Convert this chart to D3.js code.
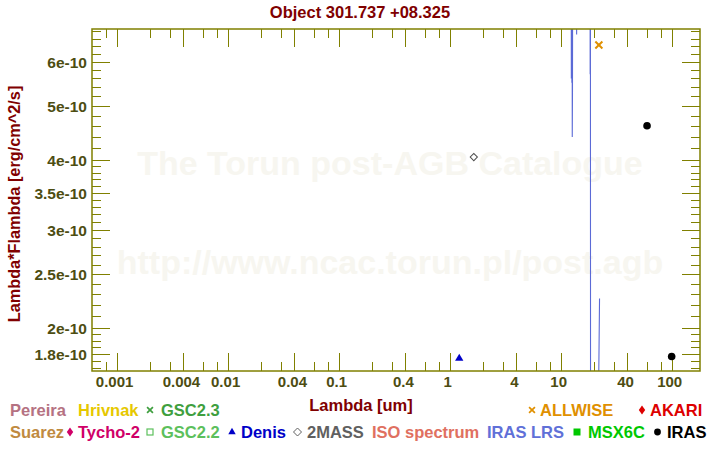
<!DOCTYPE html>
<html><head><meta charset="utf-8">
<script src="https://cdn.jsdelivr.net/npm/d3@7"></script>
<style>
body{margin:0;background:#fff}
svg{display:block}
text{font-family:"Liberation Sans",Arial,Helvetica,sans-serif;font-weight:bold}
</style>
</head><body>
<svg id="chart" width="720" height="450"></svg>
<script>
// ---------- data ----------
const chartTitle = "Object 301.737 +08.325";
const xAxisTitle = "Lambda [um]";
const yAxisTitle = "Lambda*Flambda [erg/cm^2/s]";
const watermarkLines = ["The Torun post-AGB Catalogue", "http://www.ncac.torun.pl/post.agb"];

const xTickValues = [0.001, 0.004, 0.01, 0.04, 0.1, 0.4, 1, 4, 10, 40, 100];
const xTickLabels = ["0.001", "0.004", "0.01", "0.04", "0.1", "0.4", "1", "4", "10", "40", "100"];
const yTickValues = [1.8e-10, 2e-10, 2.5e-10, 3e-10, 3.5e-10, 4e-10, 5e-10, 6e-10];
const yTickLabels = ["1.8e-10", "2e-10", "2.5e-10", "3e-10", "3.5e-10", "4e-10", "5e-10", "6e-10"];

// photometry
const allwiseLambda = [22.09];
const allwiseFlux = [6.43e-10];
const irasLambda = [60, 100];
const irasFlux = [4.61e-10, 1.78e-10];
const denisLambda = [1.22];
const denisFlux = [1.766e-10];
const twomassLambda = [1.65];
const twomassFlux = [4.05e-10];

// IRAS LRS spectrum (mostly above the plotted range)
const lrsLambda = [7.7, 8.0, 8.3, 8.6, 8.9, 9.2, 9.5, 9.8, 10.1, 10.4, 10.7, 11.0, 11.3, 11.6, 11.9, 12.2,
  12.42, 12.48, 12.55, 12.62, 12.68, 12.72, 12.78, 12.9, 13.2, 13.5, 13.85, 13.93, 14.0, 14.4, 14.8, 15.2, 15.6, 16.0,
  16.4, 16.8, 17.2, 17.6, 17.9, 18.2, 18.38, 18.44, 18.5, 18.55, 18.62, 18.8, 19.2, 19.6, 20.0, 20.4, 20.8,
  21.2, 21.6, 21.9, 22.4];
const lrsFlux = [1.2e-9, 1.4e-9, 1.7e-9, 2.0e-9, 2.2e-9, 2.4e-9, 2.5e-9, 2.6e-9, 2.7e-9, 2.6e-9, 2.5e-9, 2.4e-9, 2.3e-9, 2.2e-9, 2.1e-9, 2.0e-9,
  1.9e-9, 5.6e-10, 1.7e-9, 5.5e-10, 1.6e-9, 4.4e-10, 5.28e-10, 2.0e-9, 1.9e-9, 1.9e-9, 2.0e-9, 6.71e-10, 2.0e-9, 1.9e-9, 1.9e-9, 1.8e-9, 1.8e-9, 1.9e-9,
  1.9e-9, 2.0e-9, 2.0e-9, 2.1e-9, 2.1e-9, 2.1e-9, 2.1e-9, 5.7e-10, 2.0e-9, 5.6e-10, 4e-11, 5e-11, 6e-11, 7e-11, 8e-11, 9e-11, 1.0e-10,
  1.1e-10, 1.2e-10, 1.45e-10, 2.26e-10];

// legend
const legendNames = ["Pereira", "Hrivnak", "GSC2.3", "ALLWISE", "AKARI",
  "Suarez", "Tycho-2", "GSC2.2", "Denis", "2MASS", "ISO spectrum", "IRAS LRS", "MSX6C", "IRAS"];
const legendColors = ["#b57282", "#e6c800", "#3f9f3f", "#e09000", "#dd0000",
  "#c08a40", "#d00068", "#5cc05c", "#0000c8", "#606060", "#e07060", "#6070d8", "#00c800", "#000000"];
const legendMarkers = [null, null, "x", "x", "diamond",
  null, "diamond", "square-open", "triangle", "diamond-open", null, null, "square", "circle"];

// ---------- layout ----------
const plot = {left: 92, right: 700, top: 29, bottom: 371};
const legendLayout = [ // [row, markerX, textX]
  [0, null, 10], [0, null, 78], [0, 150, 161], [0, 532, 540], [0, 642, 650],
  [1, null, 10], [1, 70, 78], [1, 150, 161], [1, 232, 241], [1, 297.5, 307], [1, null, 372], [1, null, 487], [1, 577, 588], [1, 657.5, 667]
];
const legendRowY = [416, 438];
const axisColor = "#808000";
const tickTextColor = "#4d4d12";
const titleColor = "#800000";

const svg = d3.select("#chart");

const x = d3.scaleLog().domain([6e-4, 180]).range([plot.left, plot.right]);
const y = d3.scaleLog().domain([1.677e-10, 6.867e-10]).range([plot.bottom, plot.top]);

// watermark
svg.append("g").selectAll("text").data(watermarkLines).join("text")
  .attr("x", 390).attr("y", (d, i) => [175, 274][i])
  .attr("text-anchor", "middle").attr("font-size", 34)
  .attr("fill", "#f7f6f0").text(d => d);

// minor ticks
const xMinor = [];
[1e-4, 1e-3, 1e-2, 1e-1, 1, 10, 100].forEach(dec => [2, 3, 6, 8].forEach(m => {
  const v = dec * m;
  if (v > 6.05e-4 && v < 179) xMinor.push(v);
}));
const yMinor = [];
[[1.7e-10, 2e-10, 0.05e-10], [2e-10, 4e-10, 0.1e-10], [4e-10, 6.87e-10, 0.2e-10]].forEach(([a, b, s]) => {
  for (let k = 0; a + k * s < b - 1e-14; k++) {
    const v = a + k * s;
    if (v > 1.678e-10 && !yTickValues.some(t => Math.abs(t - v) < 1e-13)) yMinor.push(v);
  }
});

const tickG = svg.append("g").attr("stroke", axisColor).attr("stroke-width", 1);
function vTicks(vals, len) {
  vals.forEach(v => {
    const px = Math.round(x(v)) + 0.5;
    tickG.append("line").attr("x1", px).attr("x2", px).attr("y1", plot.bottom).attr("y2", plot.bottom - len);
    tickG.append("line").attr("x1", px).attr("x2", px).attr("y1", plot.top).attr("y2", plot.top + len);
  });
}
function hTicks(vals, len) {
  vals.forEach(v => {
    const py = Math.round(y(v)) + 0.5;
    tickG.append("line").attr("y1", py).attr("y2", py).attr("x1", plot.left).attr("x2", plot.left + len);
    tickG.append("line").attr("y1", py).attr("y2", py).attr("x1", plot.right).attr("x2", plot.right - len);
  });
}
vTicks(xMinor, 9); vTicks(xTickValues, 18);
hTicks(yMinor, 9); hTicks(yTickValues, 18);

// clip
svg.append("clipPath").attr("id", "clip").append("rect")
  .attr("x", plot.left).attr("y", plot.top)
  .attr("width", plot.right - plot.left).attr("height", plot.bottom - plot.top);

const dataG = svg.append("g").attr("clip-path", "url(#clip)");

// LRS spectrum
const lrs = lrsLambda.map((l, i) => [l, lrsFlux[i]]);
dataG.append("path").datum(lrs)
  .attr("fill", "none").attr("stroke", "#5b6ad6").attr("stroke-width", 1.1)
  .attr("d", d3.line().x(d => x(d[0])).y(d => y(d[1])));

// frame
svg.append("rect").attr("x", plot.left).attr("y", plot.top)
  .attr("width", plot.right - plot.left).attr("height", plot.bottom - plot.top)
  .attr("fill", "none").attr("stroke", axisColor).attr("stroke-width", 1.5);

// photometry markers
const markG = svg.append("g");
markG.selectAll(".wise").data(allwiseLambda).join("path")
  .attr("transform", (d, i) => `translate(${x(d)},${y(allwiseFlux[i])})`)
  .attr("d", d3.symbol(d3.symbolX, 34)).attr("fill", "none")
  .attr("stroke", "#e09000").attr("stroke-width", 2);
markG.selectAll(".iras").data(irasLambda).join("circle")
  .attr("cx", d => x(d)).attr("cy", (d, i) => y(irasFlux[i])).attr("r", 3.8).attr("fill", "#000");
markG.selectAll(".denis").data(denisLambda).join("path")
  .attr("transform", (d, i) => `translate(${x(d)},${y(denisFlux[i])})`)
  .attr("d", d3.symbol(d3.symbolTriangle, 30)).attr("fill", "#0000c8");
markG.selectAll(".tm").data(twomassLambda).join("path")
  .attr("transform", (d, i) => `translate(${x(d)},${y(twomassFlux[i])}) rotate(45)`)
  .attr("d", d3.symbol(d3.symbolSquare, 26)).attr("fill", "#fff")
  .attr("stroke", "#505050").attr("stroke-width", 1);

// tick labels
svg.append("g").selectAll("text").data(xTickValues).join("text")
  .attr("x", d => x(d) - 2).attr("y", 387).attr("text-anchor", "middle")
  .attr("font-size", 15).attr("fill", tickTextColor).text((d, i) => xTickLabels[i]);
svg.append("g").selectAll("text").data(yTickValues).join("text")
  .attr("x", 87).attr("y", d => y(d) + 6).attr("text-anchor", "end")
  .attr("font-size", 15.5).attr("fill", tickTextColor).text((d, i) => yTickLabels[i]);

// titles
svg.append("text").attr("x", 360).attr("y", 18).attr("text-anchor", "middle")
  .attr("font-size", 16.5).attr("fill", titleColor).text(chartTitle);
svg.append("text").attr("x", 361).attr("y", 411).attr("text-anchor", "middle")
  .attr("font-size", 16.5).attr("fill", titleColor).text(xAxisTitle);
svg.append("text").attr("transform", "translate(20,204) rotate(-90)").attr("text-anchor", "middle")
  .attr("font-size", 16.3).attr("fill", titleColor).text(yAxisTitle);

// legend
const legG = svg.append("g");
legendNames.forEach((name, i) => {
  const [row, mx, tx] = legendLayout[i];
  const by = legendRowY[row];
  const col = legendColors[i];
  const m = legendMarkers[i];
  const cy = by - 6;
  if (m === "x") {
    legG.append("path").attr("transform", `translate(${mx},${cy})`)
      .attr("d", d3.symbol(d3.symbolX, 24)).attr("fill", "none").attr("stroke", col).attr("stroke-width", 1.7);
  } else if (m === "diamond") {
    legG.append("path").attr("transform", `translate(${mx},${cy})`)
      .attr("d", "M0,-4.5L3.2,0L0,4.5L-3.2,0Z").attr("fill", col);
  } else if (m === "diamond-open") {
    legG.append("path").attr("transform", `translate(${mx},${cy})`)
      .attr("d", "M0,-4L4,0L0,4L-4,0Z").attr("fill", "#fff").attr("stroke", col).attr("stroke-width", 1);
  } else if (m === "square-open") {
    legG.append("rect").attr("x", mx - 3).attr("y", cy - 3).attr("width", 6).attr("height", 6)
      .attr("fill", "#fff").attr("stroke", col).attr("stroke-width", 1.2);
  } else if (m === "square") {
    legG.append("rect").attr("x", mx - 3.5).attr("y", cy - 3.5).attr("width", 7).attr("height", 7).attr("fill", col);
  } else if (m === "triangle") {
    legG.append("path").attr("transform", `translate(${mx},${cy})`)
      .attr("d", d3.symbol(d3.symbolTriangle, 24)).attr("fill", col);
  } else if (m === "circle") {
    legG.append("circle").attr("cx", mx).attr("cy", cy).attr("r", 3.4).attr("fill", col);
  }
  legG.append("text").attr("x", tx).attr("y", by).attr("font-size", 16.5).attr("fill", col).text(name);
});
</script>
</body></html>
